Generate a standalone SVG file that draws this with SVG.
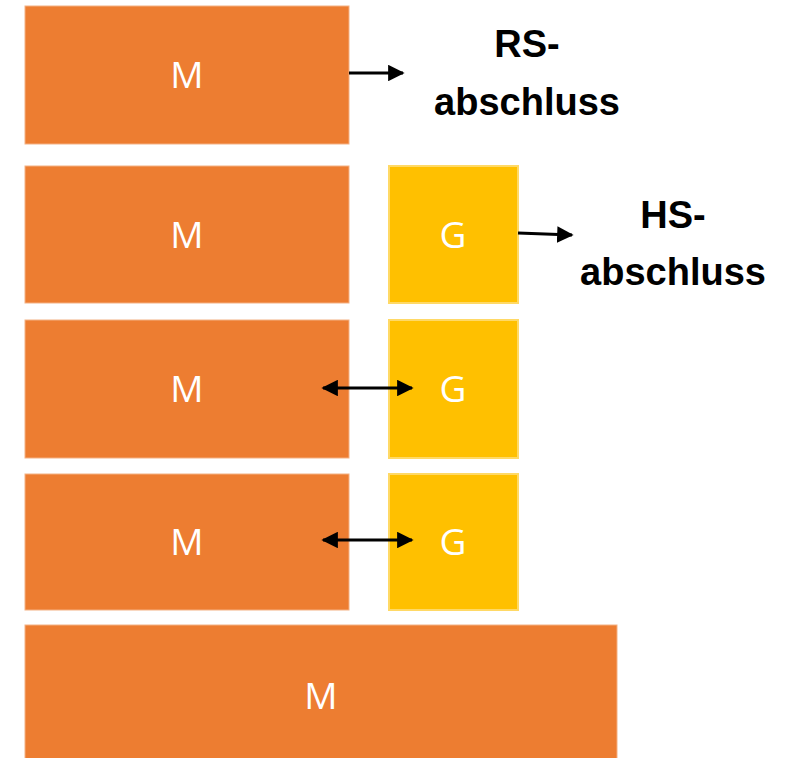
<svg xmlns="http://www.w3.org/2000/svg" width="794" height="758" viewBox="0 0 794 758">
<style>
.m{fill:#ED7D31;stroke:#F4B183;stroke-width:1}
.g{fill:#FFC000;stroke:#FFD966;stroke-width:2}
.t{fill:#fff;font-family:"Open Sans","Liberation Sans",sans-serif;font-size:37px;text-anchor:middle}
.lbl{fill:#000;font-family:"Liberation Sans",Arial,sans-serif;font-weight:bold;font-size:38px;text-anchor:middle}
.c{stroke:#000;stroke-width:3;fill:none}
</style>
<defs>
<marker id="ah" viewBox="0 0 10 10" refX="9" refY="5" markerWidth="5.5" markerHeight="5.5" orient="auto-start-reverse" markerUnits="strokeWidth">
<path d="M0,0 L10,5 L0,10 z" fill="#000"/>
</marker>
</defs>
<rect width="794" height="758" fill="#fff"/>
<g id="m1"><rect class="m" x="25" y="6" width="324" height="138"/><text class="t" x="187" y="88">M</text></g>
<g id="m2"><rect class="m" x="25" y="166" width="324" height="137"/><text class="t" x="187" y="248">M</text></g>
<g id="m3"><rect class="m" x="25" y="320" width="324" height="138"/><text class="t" x="187" y="402">M</text></g>
<g id="m4"><rect class="m" x="25" y="474" width="324" height="136"/><text class="t" x="187" y="555">M</text></g>
<g id="m5"><rect class="m" x="25" y="625" width="592" height="140"/><text class="t" x="321" y="709">M</text></g>
<g id="g1"><rect class="g" x="389" y="166" width="129" height="137"/><text class="t" x="453" y="248">G</text></g>
<g id="g2"><rect class="g" x="389" y="320" width="129" height="138"/><text class="t" x="453" y="402">G</text></g>
<g id="g3"><rect class="g" x="389" y="474" width="129" height="136"/><text class="t" x="453" y="555">G</text></g>
<g id="rs"><text class="lbl" x="527" y="57">RS-</text><text class="lbl" x="527" y="115">abschluss</text></g>
<g id="hs"><text class="lbl" x="673" y="228">HS-</text><text class="lbl" x="673" y="285">abschluss</text></g>
<g id="connectors">
<line class="c" x1="349" y1="73" x2="403" y2="73" marker-end="url(#ah)"/>
<line class="c" x1="518" y1="233" x2="572" y2="235" marker-end="url(#ah)"/>
<line class="c" x1="323" y1="388" x2="412" y2="388" marker-start="url(#ah)" marker-end="url(#ah)"/>
<line class="c" x1="323" y1="540" x2="412" y2="540" marker-start="url(#ah)" marker-end="url(#ah)"/>
</g>
</svg>
